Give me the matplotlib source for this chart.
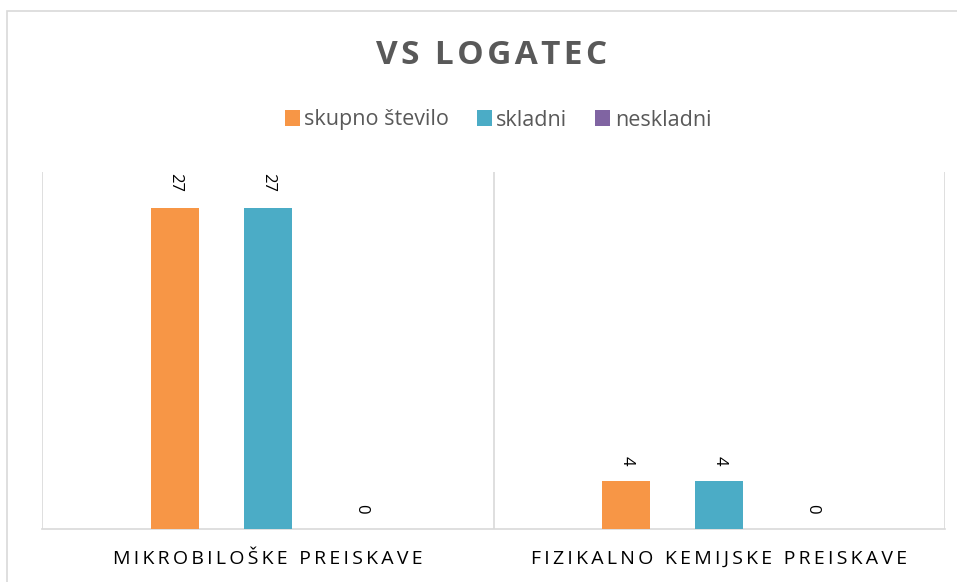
import matplotlib
matplotlib.use("Agg")
import matplotlib.pyplot as plt
from matplotlib.patches import Rectangle
import numpy as np

categories = ["MIKROBILOŠKE PREISKAVE", "FIZIKALNO KEMIJSKE PREISKAVE"]
series_names = ["skupno število", "skladni", "neskladni"]
skupno = [27, 4]
skladni = [27, 4]
neskladni = [0, 0]
colors = ["#F79646", "#4BACC6", "#8064A2"]

def spaced(s, sp="\u2009"):
    return sp.join(list(s))

fig = plt.figure(figsize=(9.57, 5.82), dpi=100)
W, H = 957, 582
fig.patches.append(Rectangle((7 / W, -0.1), 1.2, (H - 11) / H + 0.1,
                             transform=fig.transFigure, fill=False,
                             edgecolor="#D9D9D9", linewidth=1.2))

ax = fig.add_axes([42 / W, (H - 529) / H, 903 / W, 357 / H])
ax.set_xlim(0, len(categories))
ax.set_ylim(0, 30)

offset = 93 / 451
width = 48 / 451
x = np.arange(len(categories)) + 0.5
for i, (vals, name) in enumerate(zip([skupno, skladni, neskladni], series_names)):
    pos = x + (i - 1) * offset
    bars = ax.bar(pos, vals, width=width, color=colors[i], label=name, zorder=3)
    for p, v in zip(pos, vals):
        ax.annotate(str(v), (p, v), xytext=(0, 11), textcoords="offset points",
                    rotation=-90, ha="center", va="bottom", fontsize=12,
                    color="#000000", family="Open Sans")

for b in range(len(categories) + 1):
    ax.axvline(b, color="#D9D9D9", linewidth=1.2, zorder=1)

for s in ["top", "right", "left"]:
    ax.spines[s].set_visible(False)
ax.spines["bottom"].set_color("#D9D9D9")
ax.spines["bottom"].set_linewidth(1.2)
ax.set_yticks([])
ax.set_xticks(x)
ax.set_xticklabels([spaced(c) for c in categories], fontsize=14,
                   family="Open Sans", color="#000000")
ax.tick_params(axis="x", length=0, pad=15)

fig.text(492 / W, (H - 56) / H, spaced("VS LOGATEC", "\u200a"), ha="center", va="center",
         fontsize=24, fontweight="bold", color="#595959", family="Open Sans")

handles, labels = ax.get_legend_handles_labels()
leg = fig.legend(handles, labels, loc="center", bbox_to_anchor=(498 / W, (H - 120) / H),
                 ncol=3, frameon=False, handlelength=0.7, handleheight=0.7,
                 handletextpad=0.2, columnspacing=1.3,
                 prop={"family": "Open Sans", "size": 15.5})
for t in leg.get_texts():
    t.set_color("#595959")

fig.savefig("out.png", dpi=100)
